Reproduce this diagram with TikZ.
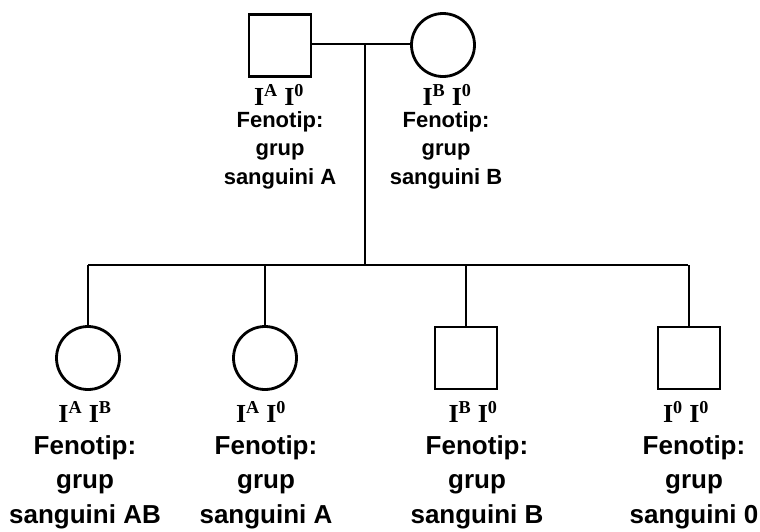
\documentclass[tikz,border=0pt]{standalone}
\usepackage{fontspec}
\setmainfont{Liberation Serif}
\newfontfamily\arialb{Liberation Sans}[BoldFont={Liberation Sans Bold}]
\begin{document}
\begin{tikzpicture}[x=1pt,y=-1pt,
  line width=2.8pt,
  male/.style={draw,rectangle,minimum width=62pt,minimum height=62pt,inner sep=0pt},
  female/.style={draw,circle,minimum size=63pt,inner sep=0pt},
  geno/.style={font=\fontsize{26}{30}\selectfont\bfseries,inner sep=0pt},
  pfen/.style={align=center,font=\fontsize{22}{28.5}\selectfont\arialb\bfseries,inner sep=0pt},
  cfen/.style={align=center,font=\fontsize{26}{34.5}\selectfont\arialb\bfseries,inner sep=0pt}]
\useasboundingbox (0,0) rectangle (760,531);
% parents
\node[male] (f) at (280,45.5) {};
\node[female] (m) at (443,45) {};
\coordinate (mid) at (365,44);
\coordinate (sib) at (365,265);
\coordinate (s1) at (88,265);
\coordinate (s2) at (265,265);
\coordinate (s3) at (466,265);
\coordinate (s4) at (688,265);
\draw (f.east |- mid) -- (mid) -- (m.west |- mid);
\draw (mid) -- (sib);
\draw (s1) -- (s4);
% children
\node[female] (c1) at (88,358) {};
\node[female] (c2) at (265,358) {};
\node[male] (c3) at (466,358) {};
\node[male] (c4) at (689,358) {};
\draw (s1) -- (c1.north);
\draw (s2) -- (c2.north);
\draw (s3) -- (c3.north);
\draw (s4 -| c4.north) -- (c4.north);
% genotypes
\node[geno] (gf) at (279,95) {I\textsuperscript{A} I\textsuperscript{0}};
\node[geno] (gm) at (447,95) {I\textsuperscript{B} I\textsuperscript{0}};
\node[geno] (g1) at (85,412) {I\textsuperscript{A} I\textsuperscript{B}};
\node[geno] (g2) at (261,412) {I\textsuperscript{A} I\textsuperscript{0}};
\node[geno] (g3) at (473,412) {I\textsuperscript{B} I\textsuperscript{0}};
\node[geno] (g4) at (686,412) {I\textsuperscript{0} I\textsuperscript{0}};
% phenotypes
\node[pfen] (pf) at (280,150) {Fenotip:\\grup\\sanguini A};
\node[pfen] (pm) at (446,150) {Fenotip:\\grup\\sanguini B};
\node[cfen] (p1) at (85,482) {Fenotip:\\grup\\sanguini AB};
\node[cfen] (p2) at (266,482) {Fenotip:\\grup\\sanguini A};
\node[cfen] (p3) at (477,482) {Fenotip:\\grup\\sanguini B};
\node[cfen] (p4) at (694,482) {Fenotip:\\grup\\sanguini 0};
\end{tikzpicture}
\end{document}
